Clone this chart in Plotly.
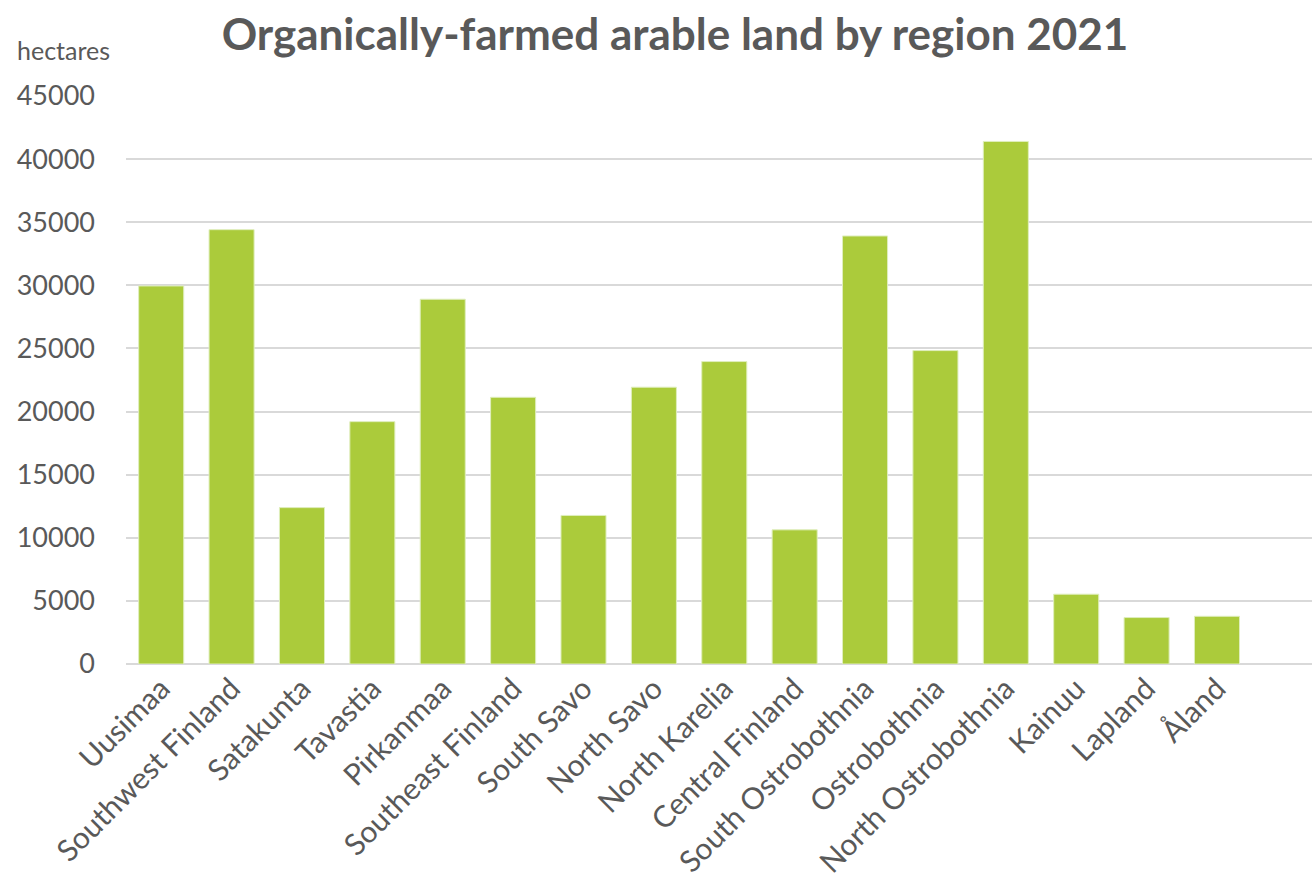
import plotly.graph_objects as go

# Organically-farmed arable land by region, 2021 (hectares)
regions = [
    "Uusimaa", "Southwest Finland", "Satakunta", "Tavastia", "Pirkanmaa",
    "Southeast Finland", "South Savo", "North Savo", "North Karelia",
    "Central Finland", "South Ostrobothnia", "Ostrobothnia",
    "North Ostrobothnia", "Kainuu", "Lapland", "Åland",
]
hectares = [
    29950, 34410, 12390, 19200, 28900,
    21130, 11770, 21930, 23960,
    10630, 33910, 24830,
    41400, 5530, 3680, 3780,
]

y_ticks = [0, 5000, 10000, 15000, 20000, 25000, 30000, 35000, 40000, 45000]

TEXT = "#595959"
FONT = "Lato"

W, H = 1312, 885
L, R, T, B = 126, 0, 96, 221
PW, PH = W - L - R, H - T - B

fig = go.Figure(
    go.Bar(
        x=list(range(len(regions))),
        y=hectares,
        width=0.64,
        marker=dict(color="#abcb3b", line=dict(color="#dfeebd", width=1)),
        hoverinfo="skip",
    )
)

fig.update_layout(
    width=W,
    height=H,
    margin=dict(l=L, r=R, t=T, b=B),
    paper_bgcolor="white",
    plot_bgcolor="white",
    showlegend=False,
    font=dict(family=FONT, color=TEXT),
    title=dict(
        text="<b>Organically-farmed arable land by region 2021</b>",
        font=dict(family=FONT, size=44, color=TEXT),
        x=675 / W,
        xanchor="center",
        xref="container",
        y=1 - 35 / H,
        yanchor="middle",
        yref="container",
    ),
    annotations=[
        dict(
            text="hectares",
            xref="paper",
            x=(15 - L) / PW,
            xanchor="left",
            yref="paper",
            y=(H - B - 50) / PH,
            yanchor="middle",
            showarrow=False,
            font=dict(family=FONT, size=25, color=TEXT),
        )
    ],
)

fig.update_xaxes(
    range=[-0.5, 16.35],
    tickmode="array",
    tickvals=list(range(len(regions))),
    ticktext=regions,
    tickangle=-45,
    tickfont=dict(family=FONT, size=30, color=TEXT),
    showgrid=False,
    showline=False,
    zeroline=False,
    ticks="",
)

fig.update_yaxes(
    range=[0, 45000],
    tickmode="array",
    tickvals=y_ticks,
    ticktext=[str(v) for v in y_ticks],
    tickfont=dict(family=FONT, size=27, color=TEXT),
    showgrid=True,
    gridcolor="#d9d9d9",
    gridwidth=2,
    zeroline=True,
    zerolinecolor="#d9d9d9",
    zerolinewidth=2,
    showline=False,
    ticks="",
    ticklabelstandoff=30,
)

fig.write_html("out.html")
